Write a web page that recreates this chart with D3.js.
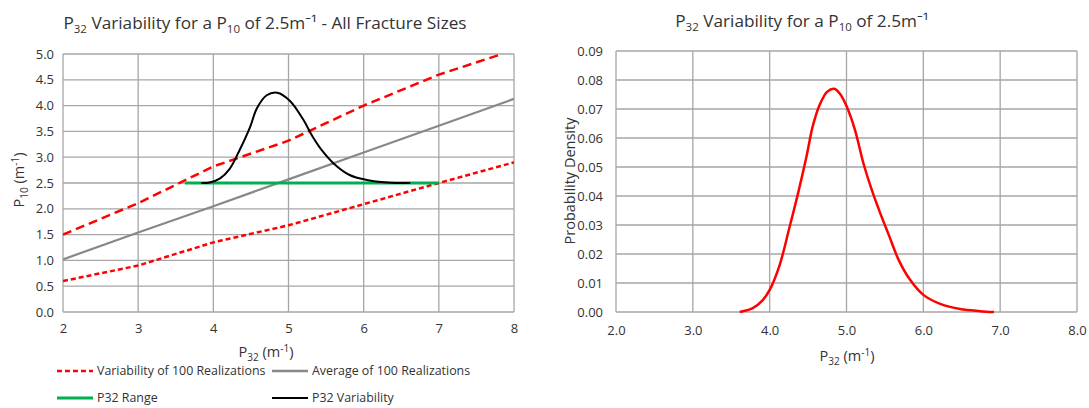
<!DOCTYPE html>
<html>
<head>
<meta charset="utf-8">
<script src="https://cdn.jsdelivr.net/npm/d3@7"></script>
<style>
  body { margin: 0; background: #fff; }
  svg text { font-family: "Open Sans", "Noto Sans", sans-serif; fill: #333333; }
</style>
</head>
<body>
<svg id="chart" width="1089" height="408"></svg>
<script>
// ---------- Data ----------
// Left chart: P10 vs P32
const upperVarX = [2, 3, 4, 5, 6, 7, 7.84];
const upperVarY = [1.5, 2.11, 2.82, 3.32, 4.0, 4.6, 5.0];
const lowerVarX = [2, 3, 4, 5, 6, 7, 8];
const lowerVarY = [0.6, 0.9, 1.35, 1.68, 2.09, 2.5, 2.9];
const avgX = [2, 3, 4, 5, 6, 7, 8];
const avgY = [1.02, 1.54, 2.05, 2.57, 3.09, 3.61, 4.13];
const rangeX = [3.62, 7.0];
const rangeY = [2.5, 2.5];
const varCurveX = [3.84, 3.95, 4.09, 4.22, 4.35, 4.49, 4.58, 4.71, 4.85, 5.02, 5.2, 5.32, 5.44, 5.6, 5.82, 6.04, 6.31, 6.62];
const varCurveY = [2.5, 2.51, 2.59, 2.78, 3.14, 3.59, 3.95, 4.2, 4.25, 4.09, 3.72, 3.4, 3.14, 2.88, 2.65, 2.56, 2.51, 2.5];
const leftXTicks = [2, 3, 4, 5, 6, 7, 8];
const leftYTicks = [0, 0.5, 1, 1.5, 2, 2.5, 3, 3.5, 4, 4.5, 5];

// Right chart: probability density vs P32
const pdfX = [3.61, 3.78, 3.91, 4.0, 4.13, 4.26, 4.37, 4.48, 4.56, 4.65, 4.75, 4.84, 4.91, 5.0, 5.11, 5.22, 5.33, 5.44, 5.55, 5.68, 5.83, 6.0, 6.22, 6.48, 6.74, 6.92];
const pdfY = [0, 0.0013, 0.0041, 0.0076, 0.0162, 0.0294, 0.041, 0.0537, 0.064, 0.0714, 0.076, 0.077, 0.0754, 0.071, 0.0628, 0.0513, 0.042, 0.034, 0.0266, 0.0179, 0.011, 0.0059, 0.0028, 0.001, 0.0003, 0];
const rightXTicks = [2, 3, 4, 5, 6, 7, 8];
const rightYTicks = [0, 0.01, 0.02, 0.03, 0.04, 0.05, 0.06, 0.07, 0.08, 0.09];

const legendItems = [
  { label: "Variability of 100 Realizations", color: "#FF0000", width: 2.5, dash: "5,3" },
  { label: "Average of 100 Realizations", color: "#888888", width: 2.5, dash: null },
  { label: "P32 Range", color: "#00B050", width: 3, dash: null },
  { label: "P32 Variability", color: "#000000", width: 2, dash: null }
];

const zip = (xs, ys) => xs.map((x, i) => [x, ys[i]]);
const svg = d3.select("#chart");
const gridColor = "#A6A6A6";
const tickFont = 13;

// ---------- Left chart ----------
const L = { left: 63, right: 514, top: 54, bottom: 312 };
const lx = d3.scaleLinear().domain([2, 8]).range([L.left, L.right]);
const ly = d3.scaleLinear().domain([0, 5]).range([L.bottom, L.top]);

const lg = svg.append("g");
lg.append("defs").append("clipPath").attr("id", "clipL")
  .append("rect").attr("x", L.left).attr("y", L.top - 1)
  .attr("width", L.right - L.left).attr("height", L.bottom - L.top + 2);

lg.append("g").selectAll("line").data(leftXTicks).join("line")
  .attr("x1", d => lx(d)).attr("x2", d => lx(d))
  .attr("y1", L.top).attr("y2", L.bottom)
  .attr("stroke", gridColor).attr("stroke-width", 1.3);
lg.append("g").selectAll("line").data(leftYTicks).join("line")
  .attr("x1", L.left).attr("x2", L.right)
  .attr("y1", d => ly(d)).attr("y2", d => ly(d))
  .attr("stroke", gridColor).attr("stroke-width", 1.3);

const lxAxis = lg.append("g").attr("transform", `translate(0,${L.bottom})`)
  .call(d3.axisBottom(lx).tickValues(leftXTicks).tickFormat(d3.format("d")).tickSize(0).tickPadding(12));
const lyAxis = lg.append("g").attr("transform", `translate(${L.left},0)`)
  .call(d3.axisLeft(ly).tickValues(leftYTicks).tickFormat(d3.format(".1f")).tickSize(0).tickPadding(9));
[lxAxis, lyAxis].forEach(a => {
  a.select(".domain").remove();
  a.selectAll("text").attr("font-size", tickFont).attr("fill", "#333333")
    .attr("font-family", "'Open Sans', sans-serif");
});

const lline = d3.line().x(d => lx(d[0])).y(d => ly(d[1]));
const lineCurve = d3.line().x(d => lx(d[0])).y(d => ly(d[1])).curve(d3.curveCatmullRom.alpha(0.5));
const plotL = lg.append("g").attr("clip-path", "url(#clipL)");
plotL.append("path").datum(zip(avgX, avgY)).attr("d", lline)
  .attr("fill", "none").attr("stroke", "#888888").attr("stroke-width", 2.2);
plotL.append("path").datum(zip(upperVarX, upperVarY)).attr("d", lline)
  .attr("fill", "none").attr("stroke", "#FF0000").attr("stroke-width", 2.5).attr("stroke-dasharray", "9,5");
plotL.append("path").datum(zip(lowerVarX, lowerVarY)).attr("d", lline)
  .attr("fill", "none").attr("stroke", "#FF0000").attr("stroke-width", 2.5).attr("stroke-dasharray", "5,3");
plotL.append("path").datum(zip(rangeX, rangeY)).attr("d", lline)
  .attr("fill", "none").attr("stroke", "#00B050").attr("stroke-width", 3);
plotL.append("path").datum(zip(varCurveX, varCurveY)).attr("d", lineCurve)
  .attr("fill", "none").attr("stroke", "#000000").attr("stroke-width", 2);

// Left title
const t1 = svg.append("text").attr("x", 265).attr("y", 29).attr("text-anchor", "middle")
  .attr("font-size", 17.2);
t1.append("tspan").text("P");
t1.append("tspan").attr("font-size", 11.5).attr("dy", 4).text("32");
t1.append("tspan").attr("dy", -4).text(" Variability for a P");
t1.append("tspan").attr("font-size", 11.5).attr("dy", 4).text("10");
t1.append("tspan").attr("dy", -4).text(" of 2.5m\u207B\u00B9 - All Fracture Sizes");

// Left axis titles
const lyt = svg.append("text").attr("transform", "translate(24,180) rotate(-90)")
  .attr("text-anchor", "middle").attr("font-size", 14.5);
lyt.append("tspan").text("P");
lyt.append("tspan").attr("font-size", 10).attr("dy", 4).text("10");
lyt.append("tspan").attr("dy", -4).text("  (m");
lyt.append("tspan").attr("font-size", 10).attr("dy", -5).text("-1");
lyt.append("tspan").attr("dy", 5).text(")");

const lxt = svg.append("text").attr("x", 266).attr("y", 357)
  .attr("text-anchor", "middle").attr("font-size", 14.5);
lxt.append("tspan").text("P");
lxt.append("tspan").attr("font-size", 10).attr("dy", 4).text("32");
lxt.append("tspan").attr("dy", -4).text(" (m");
lxt.append("tspan").attr("font-size", 10).attr("dy", -5).text("-1");
lxt.append("tspan").attr("dy", 5).text(")");

// Legend
const legPos = [[57, 371], [272, 371], [57, 398], [272, 398]];
const leg = svg.append("g").selectAll("g").data(legendItems).join("g")
  .attr("transform", (d, i) => `translate(${legPos[i][0]},${legPos[i][1]})`);
leg.append("line").attr("x1", 0).attr("x2", 36).attr("y1", 0).attr("y2", 0)
  .attr("stroke", d => d.color).attr("stroke-width", d => d.width)
  .attr("stroke-dasharray", d => d.dash);
leg.append("text").attr("x", 40).attr("y", 0).attr("dy", "0.35em")
  .attr("font-size", 12.4).text(d => d.label);

// ---------- Right chart ----------
const R = { left: 616, right: 1077, top: 51, bottom: 312 };
const rx = d3.scaleLinear().domain([2, 8]).range([R.left, R.right]);
const ry = d3.scaleLinear().domain([0, 0.09]).range([R.bottom, R.top]);
const rg = svg.append("g");

rg.append("g").selectAll("line").data(rightXTicks).join("line")
  .attr("x1", d => rx(d)).attr("x2", d => rx(d))
  .attr("y1", R.top).attr("y2", R.bottom)
  .attr("stroke", gridColor).attr("stroke-width", 1.3);
rg.append("g").selectAll("line").data(rightYTicks).join("line")
  .attr("x1", R.left).attr("x2", R.right)
  .attr("y1", d => ry(d)).attr("y2", d => ry(d))
  .attr("stroke", gridColor).attr("stroke-width", 1.3);

const rxAxis = rg.append("g").attr("transform", `translate(0,${R.bottom})`)
  .call(d3.axisBottom(rx).tickValues(rightXTicks).tickFormat(d3.format(".1f")).tickSize(0).tickPadding(14));
const ryAxis = rg.append("g").attr("transform", `translate(${R.left},0)`)
  .call(d3.axisLeft(ry).tickValues(rightYTicks).tickFormat(d3.format(".2f")).tickSize(0).tickPadding(13));
[rxAxis, ryAxis].forEach(a => {
  a.select(".domain").remove();
  a.selectAll("text").attr("font-size", tickFont).attr("fill", "#333333")
    .attr("font-family", "'Open Sans', sans-serif");
});

rg.append("path").datum(zip(pdfX, pdfY))
  .attr("d", d3.line().x(d => rx(d[0])).y(d => ry(d[1])).curve(d3.curveCatmullRom.alpha(0.5)))
  .attr("fill", "none").attr("stroke", "#FF0000").attr("stroke-width", 2.5)
  .attr("stroke-linejoin", "round");

const t2 = svg.append("text").attr("x", 802).attr("y", 27).attr("text-anchor", "middle")
  .attr("font-size", 17.2);
t2.append("tspan").text("P");
t2.append("tspan").attr("font-size", 11.5).attr("dy", 4).text("32");
t2.append("tspan").attr("dy", -4).text(" Variability for a P");
t2.append("tspan").attr("font-size", 11.5).attr("dy", 4).text("10");
t2.append("tspan").attr("dy", -4).text(" of 2.5m\u207B\u00B9");

svg.append("text").attr("transform", "translate(575,181) rotate(-90)")
  .attr("text-anchor", "middle").attr("font-size", 14.5).text("Probability Density");

const rxt = svg.append("text").attr("x", 847).attr("y", 361)
  .attr("text-anchor", "middle").attr("font-size", 14.5);
rxt.append("tspan").text("P");
rxt.append("tspan").attr("font-size", 10).attr("dy", 4).text("32");
rxt.append("tspan").attr("dy", -4).text(" (m");
rxt.append("tspan").attr("font-size", 10).attr("dy", -5).text("-1");
rxt.append("tspan").attr("dy", 5).text(")");
</script>
</body>
</html>
